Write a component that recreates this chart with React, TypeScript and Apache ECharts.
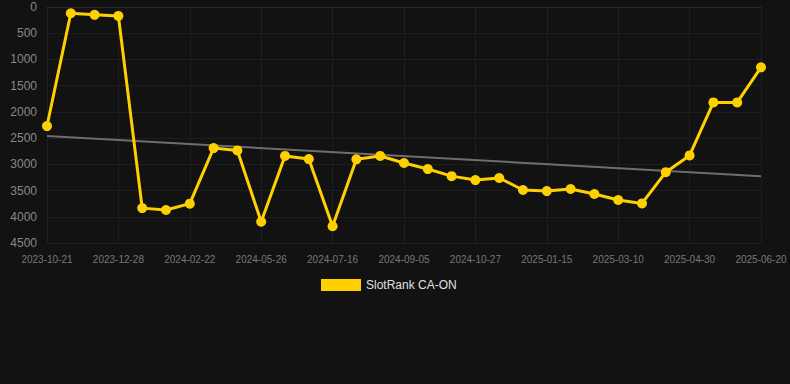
import React, { useEffect, useRef } from "react";
import * as echarts from "echarts";

const categories = [
  "2023-10-21", "2023-11-13", "2023-12-05", "2023-12-28", "2024-01-16", "2024-02-03",
  "2024-02-22", "2024-03-25", "2024-04-25", "2024-05-26", "2024-06-12", "2024-06-29",
  "2024-07-16", "2024-08-02", "2024-08-19", "2024-09-05", "2024-09-22", "2024-10-10",
  "2024-10-27", "2024-11-22", "2024-12-19", "2025-01-15", "2025-02-02", "2025-02-20",
  "2025-03-10", "2025-03-27", "2025-04-13", "2025-04-30", "2025-05-17", "2025-06-03",
  "2025-06-20",
];

const rankValues = [
  2270, 120, 150, 170, 3835, 3870, 3750, 2690, 2735, 4095, 2840, 2900,
  4180, 2905, 2840, 2975, 3090, 3225, 3300, 3260, 3490, 3510, 3470, 3565,
  3680, 3745, 3150, 2830, 1820, 1820, 1150,
];

const trendStart = 2460;
const trendEnd = 3225;

const yTicks = { min: 0, max: 4500, interval: 500 };

export default function App() {
  const ref = useRef<HTMLDivElement>(null);
  useEffect(() => {
    document.body.style.margin = "0";
    document.body.style.background = "#121212";
    if (!ref.current) return;
    const chart = echarts.init(ref.current, undefined, { renderer: "svg" });
    const trendData = categories.map((_, i) =>
      i === 0 ? trendStart : i === categories.length - 1 ? trendEnd : null
    );
    chart.setOption({
      animation: false,
      backgroundColor: "#121212",
      grid: { left: 47, right: 29, top: 7, bottom: 141, containLabel: false },
      legend: {
        top: 274,
        left: 316,
        data: [{ name: "SlotRank CA-ON", icon: "rect" }],
        itemWidth: 40,
        itemHeight: 12,
        textStyle: { color: "#e0e0e0", fontSize: 12, fontFamily: "Liberation Sans, Arial, sans-serif" },
      },
      xAxis: {
        type: "category",
        data: categories,
        boundaryGap: false,
        axisLine: { show: true, lineStyle: { color: "#2a2a2a" } },
        axisTick: { show: false },
        axisLabel: {
          interval: 2,
          color: "#777",
          fontSize: 10,
          margin: 11,
          fontFamily: "Liberation Sans, Arial, sans-serif",
        },
        splitLine: { show: true, interval: 2, lineStyle: { color: "#1e1e1e" } },
      },
      yAxis: {
        type: "value",
        inverse: true,
        min: yTicks.min,
        max: yTicks.max,
        interval: yTicks.interval,
        axisLine: { show: false },
        axisTick: { show: false },
        axisLabel: {
          color: "#888",
          fontSize: 12,
          margin: 10,
          formatter: (v: number) => String(v),
          fontFamily: "Liberation Sans, Arial, sans-serif",
        },
        splitLine: { show: true, lineStyle: { color: "#1e1e1e" } },
      },
      series: [
        {
          name: "SlotRank CA-ON",
          type: "line",
          data: rankValues,
          symbol: "circle",
          symbolSize: 10,
          itemStyle: { color: "#FFD000" },
          lineStyle: { color: "#FFD000", width: 3 },
          z: 3,
        },
        {
          name: "Trend",
          type: "line",
          data: trendData,
          connectNulls: true,
          symbol: "none",
          lineStyle: { color: "#6e6e6e", width: 2 },
          z: 2,
        },
      ],
    });
    return () => chart.dispose();
  }, []);
  return <div ref={ref} style={{ width: 790, height: 384 }} />;
}
